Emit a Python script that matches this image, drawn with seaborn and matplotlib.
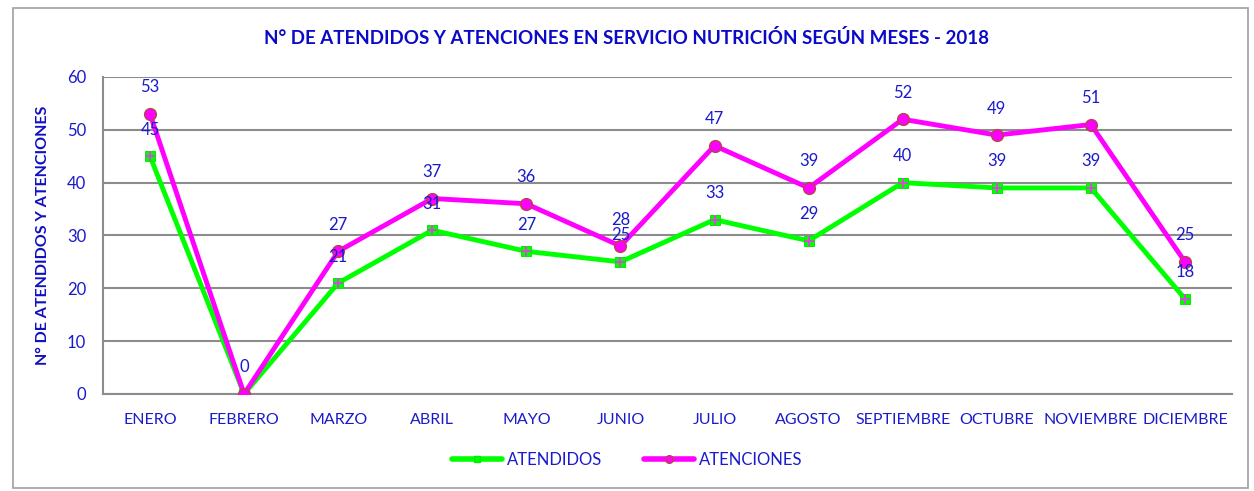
import numpy as np
import pandas as pd
import seaborn as sns
import matplotlib.pyplot as plt
from matplotlib.patches import Rectangle
from matplotlib.lines import Line2D

# datos
meses = ["ENERO", "FEBRERO", "MARZO", "ABRIL", "MAYO", "JUNIO", "JULIO",
         "AGOSTO", "SEPTIEMBRE", "OCTUBRE", "NOVIEMBRE", "DICIEMBRE"]
atendidos = [45, 0, 21, 31, 27, 25, 33, 29, 40, 39, 39, 18]
atenciones = [53, 0, 27, 37, 36, 28, 47, 39, 52, 49, 51, 25]

df = pd.DataFrame({"mes": meses, "pos": range(len(meses)),
                   "ATENDIDOS": atendidos, "ATENCIONES": atenciones})

sns.set_style("white")
plt.rcParams["font.family"] = ["Lato", "DejaVu Sans"]
azul = "#1a1acc"
gris = "#8c8c8c"

fig = plt.figure(figsize=(12.54, 4.91), dpi=100)
ax = fig.add_axes([0.0821, 0.1976, 0.9004, 0.6456])

# marco del grafico
fig.patches.append(Rectangle((0.010, 0.006), 0.985, 0.978, transform=fig.transFigure,
                             fill=False, edgecolor="#a0a0a0", lw=1.2))

sns.lineplot(data=df, x="pos", y="ATENDIDOS", ax=ax, color="#00ff00", lw=3.5,
             marker="s", markersize=7, markeredgecolor="#00ee00", zorder=3)
sns.scatterplot(data=df, x="pos", y="ATENDIDOS", ax=ax, marker="+", s=45,
                color="#e040e0", linewidth=1.3, zorder=4)
sns.lineplot(data=df, x="pos", y="ATENCIONES", ax=ax, color="#ff00ff", lw=3.5,
             marker="o", markersize=8.5, markeredgecolor="#b04848",
             markeredgewidth=1.0, zorder=5)

# etiquetas de datos
for i, v in enumerate(atendidos):
    if v > 0:
        ax.text(i, v + 3.5, str(v), ha="center", va="bottom", color=azul,
                fontsize=12, zorder=10)
for i, v in enumerate(atenciones):
    ax.text(i, v + 3.5, str(v), ha="center", va="bottom", color=azul,
            fontsize=12, zorder=10)

ax.set_xlim(-0.5, 11.5)
ax.set_ylim(0, 60)
ax.set_yticks(range(0, 61, 10))
ax.set_xticks(range(12))
ax.set_xticklabels(meses)
ax.set_xticks(np.arange(-0.5, 12, 1), minor=True)
ax.tick_params(axis="x", which="major", length=0, pad=14, labelsize=11.5, labelcolor=azul)
ax.tick_params(axis="x", which="minor", length=5, width=1.2, color=gris, direction="out")
ax.tick_params(axis="y", length=6, width=1.2, color=gris, direction="out",
               labelsize=12, labelcolor=azul, pad=6)
ax.yaxis.grid(True, color=gris, lw=1.5)
ax.set_axisbelow(True)
for s in ["top", "right"]:
    ax.spines[s].set_visible(False)
for s in ["left", "bottom"]:
    ax.spines[s].set_color(gris)
    ax.spines[s].set_linewidth(1.5)

ax.set_xlabel("")
ax.set_ylabel("N° DE ATENDIDOS Y ATENCIONES", color="#1010c0", fontsize=11.5,
              fontweight="bold", labelpad=12)
fig.text(0.5, 0.923, "N° DE ATENDIDOS Y ATENCIONES EN SERVICIO NUTRICIÓN SEGÚN MESES - 2018",
         ha="center", va="center", color="#0a0ac8", fontsize=13.5, fontweight="bold")

handles = [
    Line2D([], [], color="#00ff00", lw=4, marker="s", markersize=5,
           markeredgecolor="#00ee00"),
    Line2D([], [], color="#ff00ff", lw=4, marker="o", markersize=5.5,
           markeredgecolor="#b04848"),
]
fig.legend(handles, ["ATENDIDOS", "ATENCIONES"], loc="center", bbox_to_anchor=(0.5, 0.063),
           ncol=2, frameon=False, fontsize=12, labelcolor=azul, handlelength=3,
           columnspacing=2.5, handletextpad=0.3)

fig.savefig("out.png", dpi=100)
